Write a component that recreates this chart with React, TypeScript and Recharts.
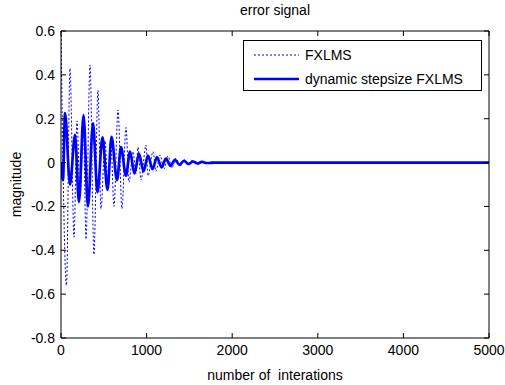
import React from 'react';
import { LineChart, Line, XAxis, YAxis, Legend } from 'recharts';

const fxlmsIter = [0, 64, 105, 152, 187, 222, 263, 292, 339, 385, 432, 467, 514, 549, 584, 619, 666, 712, 759, 794, 841, 876, 899, 934, 993, 1016, 1075, 1110, 1156, 1203, 1250, 1296, 1343, 1390, 1437, 1483, 1530, 1589, 1647, 1705, 1764, 1850, 5000];
const fxlmsVal = [0.6, -0.56, 0.43, -0.34, 0.19, -0.15, 0.15, -0.35, 0.445, -0.42, 0.33, -0.21, 0.1, -0.12, 0.08, -0.2, 0.24, -0.21, 0.16, -0.09, 0.05, -0.05, 0.07, -0.08, 0.08, -0.06, 0.05, -0.04, 0.035, -0.03, 0.03, -0.025, 0.02, -0.018, 0.015, -0.012, 0.01, -0.008, 0.006, -0.004, 0.003, 0, 0];

const dynIter = [0, 23, 47, 105, 164, 210, 263, 315, 374, 426, 485, 543, 590, 654, 701, 759, 806, 858, 911, 964, 1016, 1069, 1121, 1174, 1226, 1279, 1331, 1384, 1437, 1489, 1542, 1594, 1647, 1700, 1800, 5000];
const dynVal = [0, -0.08, 0.226, -0.10, 0.126, -0.18, 0.217, -0.20, 0.18, -0.135, 0.115, -0.125, 0.117, -0.08, 0.07, -0.06, 0.05, -0.05, 0.04, -0.04, 0.032, -0.03, 0.025, -0.022, 0.018, -0.015, 0.012, -0.01, 0.008, -0.006, 0.005, -0.004, 0.003, -0.002, 0, 0];

const xTicks = [0, 1000, 2000, 3000, 4000, 5000];
const xTickLabels = ['0', '1000', '2000', '3000', '4000', '5000'];
const yTicks = [-0.8, -0.6, -0.4, -0.2, 0, 0.2, 0.4, 0.6];
const yTickLabels = ['-0.8', '-0.6', '-0.4', '-0.2', '0', '0.2', '0.4', '0.6'];
const seriesNames = ['FXLMS', 'dynamic stepsize FXLMS'];
const titleText = 'error signal';
const xTitle = 'number of\u00a0 interations';
const yTitle = 'magnitude';

const fxlmsData = fxlmsIter.map((n, i) => ({ n, v: fxlmsVal[i] }));
const dynData = dynIter.map((n, i) => ({ n, v: dynVal[i] }));

const FONT = '"Liberation Sans", Arial, Helvetica, sans-serif';
const FS = 14;
const BLUE = '#0000ff';
const TICK = 5;

const labelFor = (ticks: number[], labels: string[], v: number) => {
  const i = ticks.findIndex((t) => Math.abs(t - v) < 1e-9);
  return i >= 0 ? labels[i] : String(v);
};

const BottomTick = (props: any) => {
  const { x, y, payload } = props;
  const m = 7;
  return (
    <g>
      <line x1={x} x2={x} y1={y - m} y2={y - m - TICK} stroke="#000" strokeWidth={1} />
      <text x={x} y={y} dy="0.71em" textAnchor="middle" fontFamily={FONT} fontSize={FS} fill="#000">
        {labelFor(xTicks, xTickLabels, payload.value)}
      </text>
    </g>
  );
};

const TopTick = (props: any) => {
  const { x, y } = props;
  return <line x1={x} x2={x} y1={y} y2={y + TICK} stroke="#000" strokeWidth={1} />;
};

const LeftTick = (props: any) => {
  const { x, y, payload } = props;
  const m = 6;
  return (
    <g>
      <line x1={x + m} x2={x + m + TICK} y1={y} y2={y} stroke="#000" strokeWidth={1} />
      <text x={x} y={y} dy="0.355em" textAnchor="end" fontFamily={FONT} fontSize={FS} fill="#000">
        {labelFor(yTicks, yTickLabels, payload.value)}
      </text>
    </g>
  );
};

const RightTick = (props: any) => {
  const { x, y } = props;
  return <line x1={x} x2={x - TICK} y1={y} y2={y} stroke="#000" strokeWidth={1} />;
};

const LegendBox = () => (
  <div
    style={{
      width: 237,
      height: 49,
      border: '1px solid #000',
      background: '#fff',
      fontFamily: FONT,
      fontSize: FS,
      color: '#000',
      position: 'relative',
    }}
  >
    <svg width={237} height={49} style={{ position: 'absolute', left: 0, top: 0 }}>
      <line x1={10} x2={55} y1={14} y2={14} stroke={BLUE} strokeWidth={1} strokeDasharray="2 2" />
      <line x1={10} x2={55} y1={38} y2={38} stroke={BLUE} strokeWidth={2.7} />
      <text x={61} y={14} dy="0.355em" fontFamily={FONT} fontSize={FS} fill="#000">{seriesNames[0]}</text>
      <text x={61} y={38} dy="0.355em" fontFamily={FONT} fontSize={FS} fill="#000">{seriesNames[1]}</text>
    </svg>
  </div>
);

export default function App() {
  return (
    <div style={{ position: 'absolute', left: 0, top: 0, width: 505, height: 385, background: '#fff' }}>
      <LineChart width={505} height={385} margin={{ top: 0, right: 0, bottom: 0, left: 0 }}>
        <XAxis
          xAxisId="b"
          dataKey="n"
          type="number"
          orientation="bottom"
          domain={[0, 5000]}
          ticks={xTicks}
          allowDataOverflow
          height={47}
          tickSize={0}
          tickMargin={7}
          tickLine={false}
          interval={0}
          axisLine={{ stroke: '#000', strokeWidth: 1 }}
          tick={<BottomTick />}
          label={{ value: xTitle, position: 'insideBottom', offset: 5, fontFamily: FONT, fontSize: FS, fill: '#000' }}
        />
        <XAxis
          xAxisId="t"
          dataKey="n"
          type="number"
          orientation="top"
          domain={[0, 5000]}
          ticks={xTicks}
          allowDataOverflow
          height={31}
          tickSize={0}
          tickMargin={0}
          tickLine={false}
          interval={0}
          axisLine={{ stroke: '#000', strokeWidth: 1 }}
          tick={<TopTick />}
          label={{ value: titleText, position: 'insideTop', offset: 5, fontFamily: FONT, fontSize: FS, fill: '#000' }}
        />
        <YAxis
          yAxisId="l"
          type="number"
          orientation="left"
          domain={[-0.8, 0.6]}
          ticks={yTicks}
          allowDataOverflow
          width={61}
          tickSize={0}
          tickMargin={6}
          tickLine={false}
          interval={0}
          axisLine={{ stroke: '#000', strokeWidth: 1 }}
          tick={<LeftTick />}
          label={{ value: yTitle, angle: -90, position: 'insideLeft', offset: 16, fontFamily: FONT, fontSize: FS, fill: '#000', style: { textAnchor: 'middle' } }}
        />
        <YAxis
          yAxisId="r"
          type="number"
          orientation="right"
          domain={[-0.8, 0.6]}
          ticks={yTicks}
          allowDataOverflow
          width={16}
          tickSize={0}
          tickMargin={0}
          tickLine={false}
          interval={0}
          axisLine={{ stroke: '#000', strokeWidth: 1 }}
          tick={<RightTick />}
        />
        <Legend
          layout="horizontal"
          verticalAlign="middle"
          align="center"
          content={<LegendBox />}
          wrapperStyle={{ position: 'absolute', left: 243, top: 40, width: 239, height: 51 }}
        />
        <Line
          xAxisId="b"
          yAxisId="l"
          data={fxlmsData}
          dataKey="v"
          name={seriesNames[0]}
          type="monotone"
          stroke={BLUE}
          strokeWidth={1}
          strokeDasharray="2 2"
          dot={false}
          activeDot={false}
          isAnimationActive={false}
        />
        <Line
          xAxisId="b"
          yAxisId="l"
          data={dynData}
          dataKey="v"
          name={seriesNames[1]}
          type="monotone"
          stroke={BLUE}
          strokeWidth={2.7}
          dot={false}
          activeDot={false}
          isAnimationActive={false}
        />
      </LineChart>
    </div>
  );
}
